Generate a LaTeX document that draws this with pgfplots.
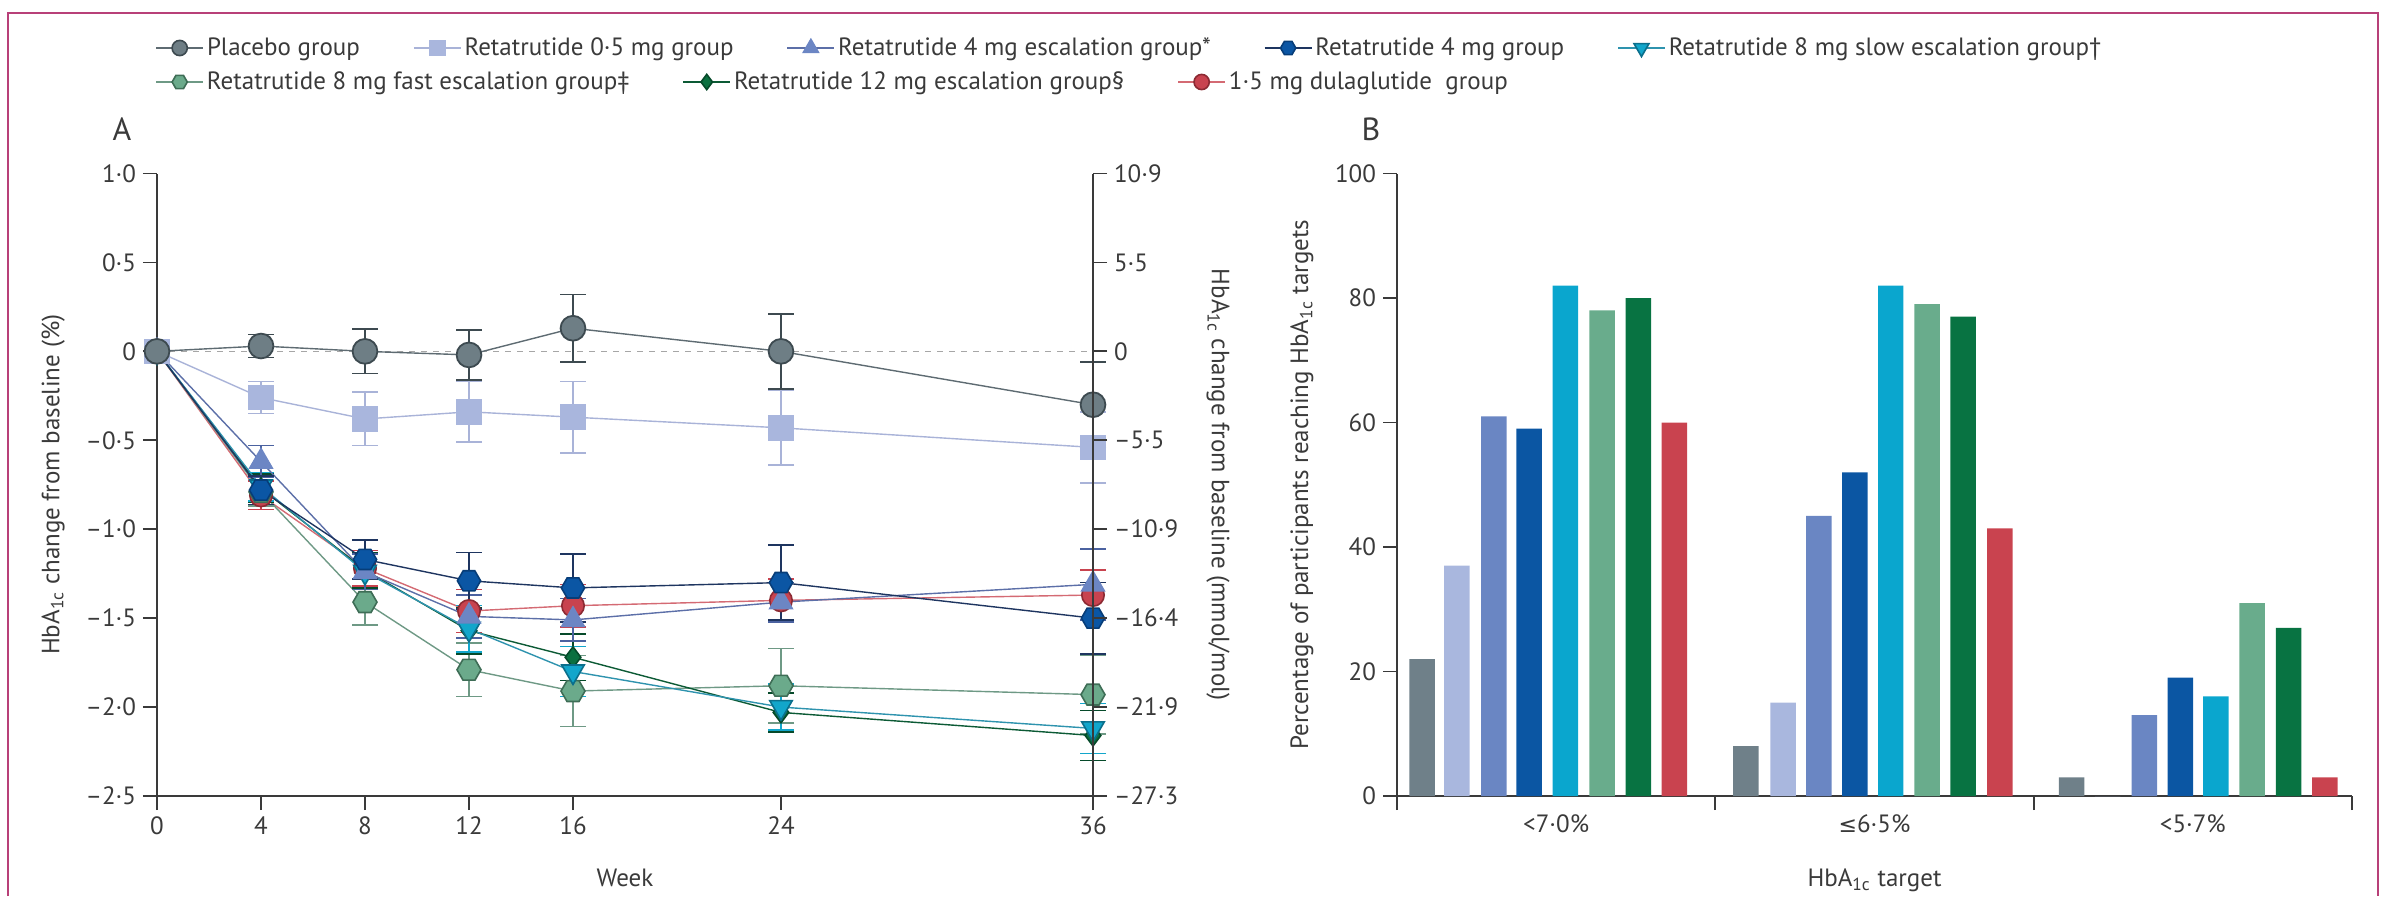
\documentclass[border=0pt]{standalone}
\usepackage{fontspec}
\setmainfont{PT Sans}
\newfontfamily\symfont{DejaVu Sans}
\usepackage{pgfplots}
\pgfplotsset{compat=1.18}
\usetikzlibrary{plotmarks}

% text and axis greys
\definecolor{txt}{HTML}{3A3A3A}
\definecolor{axcol}{HTML}{3A3A3A}
\definecolor{framecol}{HTML}{B84078}
% series colours: fill, outline, connecting line
\definecolor{plc}{HTML}{6E7E85}\definecolor{plcDark}{HTML}{3D4A50}\definecolor{plcLine}{HTML}{5E6B72}
\definecolor{c05}{HTML}{A9B6DD}\definecolor{c05Line}{HTML}{A9B3D8}
\definecolor{c4e}{HTML}{6C86C4}\definecolor{c4eDark}{HTML}{4B62A0}\definecolor{c4eLine}{HTML}{5C6FA8}
\definecolor{c4}{HTML}{0B56A4}\definecolor{c4Dark}{HTML}{073D78}\definecolor{c4Line}{HTML}{1E3560}
\definecolor{c8s}{HTML}{12A6CB}\definecolor{c8sDark}{HTML}{0B6F8C}\definecolor{c8sLine}{HTML}{2E93AE}
\definecolor{c8f}{HTML}{6BAA8B}\definecolor{c8fDark}{HTML}{3E6D56}\definecolor{c8fLine}{HTML}{6E9985}
\definecolor{c12}{HTML}{0B7040}\definecolor{c12Dark}{HTML}{064A2A}\definecolor{c12Line}{HTML}{0C5A35}
\definecolor{cdu}{HTML}{C8434F}\definecolor{cduDark}{HTML}{8C2A33}\definecolor{cduLine}{HTML}{D46A73}
% bar colours
\definecolor{bplc}{HTML}{6F8089}\definecolor{b05}{HTML}{A9B7DE}\definecolor{b4e}{HTML}{6A86C3}
\definecolor{b4}{HTML}{0B56A3}\definecolor{b8s}{HTML}{0AA6CE}\definecolor{b8f}{HTML}{69AC8C}
\definecolor{b12}{HTML}{087342}\definecolor{bdu}{HTML}{C9434F}

% filled hexagon marker, flat top and bottom
\pgfdeclareplotmark{hexagon}{%
  \pgfpathmoveto{\pgfqpointpolar{0}{\pgfplotmarksize}}%
  \pgfpathlineto{\pgfqpointpolar{60}{\pgfplotmarksize}}%
  \pgfpathlineto{\pgfqpointpolar{120}{\pgfplotmarksize}}%
  \pgfpathlineto{\pgfqpointpolar{180}{\pgfplotmarksize}}%
  \pgfpathlineto{\pgfqpointpolar{240}{\pgfplotmarksize}}%
  \pgfpathlineto{\pgfqpointpolar{300}{\pgfplotmarksize}}%
  \pgfpathclose
  \pgfusepathqfillstroke}

\pgfplotsset{
  basefont/.style={font=\fontsize{12.5}{15}\selectfont},
  panel/.style={
    scale only axis, height=311.25pt,
    basefont,
    axis line style={line width=0.9pt, draw=axcol, -},
    tick align=outside, major tick length=7pt,
    tick style={line width=0.9pt, draw=axcol},
    /pgf/number format/assume math mode=true,
    tick label style={text=txt},
    label style={text=txt},
  },
  errs/.style={
    /pgfplots/error bars/y dir=both,
    /pgfplots/error bars/y explicit,
    /pgfplots/error bars/error bar style={draw=#1, line width=0.8pt},
    /pgfplots/error bars/error mark options={rotate=90, mark size=6.5pt, line width=0.8pt, draw=#1},
  },
  legrow/.style={
    hide axis, scale only axis, width=1pt, height=1pt,
    xmin=0, xmax=1, ymin=0, ymax=1,
    legend columns=-1,
    legend style={at={(0,0.5)}, anchor=west, draw=none, fill=none, inner sep=0pt,
      basefont, text=txt,
      nodes={inner sep=1.5pt},
      /tikz/every even column/.append style={column sep=25pt}},
    legend image code/.code={%
      \draw[mark repeat=2, mark phase=2, ##1] plot coordinates {(0pt,0pt) (11.75pt,0pt) (23.5pt,0pt)};},
  },
}

\begin{document}
\begin{tikzpicture}[text=txt]
\path[use as bounding box] (0,0) rectangle (1193.5pt,448pt);
\draw[framecol, line width=1.2pt] (4pt,0pt) -- (4pt,441.5pt) -- (1189pt,441.5pt) -- (1189pt,0pt);

% ---------- legend, first row ----------
\begin{axis}[legrow, at={(77.5pt,423.5pt)}, anchor=south west]
\addlegendimage{plcLine, line width=0.8pt, mark=*, mark size=3.8pt, mark options={fill=plc, draw=plcDark}}
\addlegendentry{Placebo group}
\addlegendimage{c05Line, line width=0.8pt, mark=square*, mark size=3.8pt, mark options={fill=c05, draw=c05}}
\addlegendentry{Retatrutide 0·5 mg group}
\addlegendimage{c4eLine, line width=0.8pt, mark=triangle*, mark size=4.3pt, mark options={fill=c4e, draw=c4e}}
\addlegendentry{Retatrutide 4 mg escalation group*}
\addlegendimage{c4Line, line width=0.8pt, mark=hexagon, mark size=3.8pt, mark options={fill=c4, draw=c4Dark}}
\addlegendentry{Retatrutide 4 mg group}
\addlegendimage{c8sLine, line width=0.8pt, mark=triangle*, mark size=4.3pt, mark options={fill=c8s, draw=c8sDark, rotate=180}}
\addlegendentry{Retatrutide 8 mg slow escalation group†}
\end{axis}

% ---------- legend, second row ----------
\begin{axis}[legrow, at={(77.5pt,406.5pt)}, anchor=south west]
\addlegendimage{c8fLine, line width=0.8pt, mark=hexagon, mark size=3.8pt, mark options={fill=c8f, draw=c8fDark}}
\addlegendentry{Retatrutide 8 mg fast escalation group‡}
\addlegendimage{c12Line, line width=0.8pt, mark=diamond*, mark size=3.8pt, mark options={fill=c12, draw=c12Dark}}
\addlegendentry{Retatrutide 12 mg escalation group§}
\addlegendimage{cduLine, line width=0.8pt, mark=*, mark size=3.8pt, mark options={fill=cdu, draw=cduDark}}
\addlegendentry{1·5 mg dulaglutide\ \ group}
\end{axis}

\node[font=\fontsize{16}{18}\selectfont] at (61pt,383.5pt) {A};
\node[font=\fontsize{16}{18}\selectfont] at (685.5pt,383.5pt) {B};

% ---------- panel A: change in HbA1c over time ----------
\begin{axis}[panel, width=468pt,
  at={(78.5pt,50pt)}, anchor=south west,
  xmin=0, xmax=36, ymin=-2.5, ymax=1,
  axis x line*=bottom, axis y line*=left,
  xtick={0,4,8,12,16,24,36},
  ytick={1,0.5,0,-0.5,-1,-1.5,-2,-2.5},
  yticklabels={1·0,0·5,0,–0·5,–1·0,–1·5,–2·0,–2·5},
  xlabel={Week},
  xlabel style={at={(axis description cs:0.5,-0.1317)}, anchor=center},
  ylabel={HbA\textsubscript{1c} change from baseline (\%)},
  ylabel style={at={(axis description cs:-0.111,0.5)}, anchor=center},
  clip=false,
]
\addplot[gray!70, dashed, line width=0.7pt, forget plot] coordinates {(0,0) (36,0)};

\addplot[cduLine, line width=0.7pt, mark=*, mark size=5.6pt,
  mark options={solid, fill=cdu, draw=cduDark, line width=0.8pt}, errs=cdu]
  table[x=w, y=m, y error=e, row sep=\\]{w m e\\ 0 0 0\\ 4 -0.81 0.08\\ 8 -1.22 0.10\\ 12 -1.46 0.12\\ 16 -1.43 0.12\\ 24 -1.40 0.12\\ 36 -1.37 0.14\\};

\addplot[c8fLine, line width=0.7pt, mark=hexagon, mark size=6pt,
  mark options={solid, fill=c8f, draw=c8fDark, line width=0.8pt}, errs=c8fLine]
  table[x=w, y=m, y error=e, row sep=\\]{w m e\\ 0 0 0\\ 4 -0.79 0.08\\ 8 -1.41 0.13\\ 12 -1.79 0.15\\ 16 -1.91 0.20\\ 24 -1.88 0.21\\ 36 -1.93 0.22\\};

\addplot[c12Line, line width=0.7pt, mark=diamond*, mark size=5.2pt,
  mark options={solid, fill=c12, draw=c12Dark, line width=0.8pt}, errs=c12Dark]
  table[x=w, y=m, y error=e, row sep=\\]{w m e\\ 0 0 0\\ 4 -0.77 0.08\\ 8 -1.23 0.10\\ 12 -1.57 0.13\\ 16 -1.72 0.13\\ 24 -2.03 0.11\\ 36 -2.16 0.14\\};

\addplot[c8sLine, line width=0.7pt, mark=triangle*, mark size=6.5pt,
  mark options={solid, fill=c8s, draw=c8sDark, line width=0.8pt, rotate=180}, errs=c8s]
  table[x=w, y=m, y error=e, row sep=\\]{w m e\\ 0 0 0\\ 4 -0.76 0.08\\ 8 -1.24 0.10\\ 12 -1.56 0.13\\ 16 -1.80 0.14\\ 24 -2.00 0.13\\ 36 -2.12 0.14\\};

\addplot[c4eLine, line width=0.7pt, mark=triangle*, mark size=6.5pt,
  mark options={solid, fill=c4e, draw=c4e, line width=0.8pt}, errs=c4eDark]
  table[x=w, y=m, y error=e, row sep=\\]{w m e\\ 0 0 0\\ 4 -0.62 0.09\\ 8 -1.24 0.10\\ 12 -1.49 0.12\\ 16 -1.51 0.12\\ 24 -1.41 0.11\\ 36 -1.31 0.20\\};

\addplot[c4Line, line width=0.7pt, mark=hexagon, mark size=5.8pt,
  mark options={solid, fill=c4, draw=c4Dark, line width=0.8pt}, errs=c4Line]
  table[x=w, y=m, y error=e, row sep=\\]{w m e\\ 0 0 0\\ 4 -0.78 0.08\\ 8 -1.17 0.11\\ 12 -1.29 0.16\\ 16 -1.33 0.19\\ 24 -1.30 0.21\\ 36 -1.50 0.20\\};

\addplot[c05Line, line width=0.7pt, mark=square*, mark size=6pt,
  mark options={solid, fill=c05, draw=c05, line width=0.8pt}, errs=c05Line]
  table[x=w, y=m, y error=e, row sep=\\]{w m e\\ 0 0 0\\ 4 -0.26 0.09\\ 8 -0.38 0.15\\ 12 -0.34 0.17\\ 16 -0.37 0.20\\ 24 -0.43 0.21\\ 36 -0.54 0.20\\};

\addplot[plcLine, line width=0.7pt, mark=*, mark size=6.2pt,
  mark options={solid, fill=plc, draw=plcDark, line width=0.9pt}, errs=plcDark]
  table[x=w, y=m, y error=e, row sep=\\]{w m e\\ 0 0 0\\ 4 0.03 0.065\\ 8 0.00 0.125\\ 12 -0.02 0.14\\ 16 0.13 0.19\\ 24 0.00 0.21\\ 36 -0.30 0.24\\};
\end{axis}

% ---------- panel A: right-hand scale in mmol/mol ----------
\begin{axis}[panel, width=468pt,
  at={(78.5pt,50pt)}, anchor=south west,
  xmin=0, xmax=36, ymin=-2.5, ymax=1,
  axis x line=none, axis y line*=right,
  ytick={1,0.5,0,-0.5,-1,-1.5,-2,-2.5},
  yticklabels={10·9,5·5,0,–5·5,–10·9,–16·4,–21·9,–27·3},
  ylabel={HbA\textsubscript{1c} change from baseline (mmol/mol)},
  ylabel style={at={(axis description cs:1.1335,0.5)}, anchor=center, rotate=180},
]
\addplot[draw=none, forget plot] coordinates {(0,0)};
\end{axis}

% ---------- panel B: participants reaching HbA1c targets ----------
\begin{axis}[panel, width=477.5pt,
  at={(698.5pt,50pt)}, anchor=south west,
  xmin=0, xmax=3, ymin=0, ymax=100,
  axis x line*=bottom, axis y line*=left,
  ytick={0,20,40,60,80,100},
  xtick={0,1,2,3}, xticklabels={},
  extra x ticks={0.5,1.5,2.5},
  extra x tick labels={<7·0\%,{\symfont\fontsize{11}{13}\selectfont ≤}6·5\%,<5·7\%},
  extra x tick style={major tick length=0pt, tick label style={yshift=-6pt}},
  xlabel={HbA\textsubscript{1c} target},
  xlabel style={at={(axis description cs:0.5,-0.135)}, anchor=center},
  ylabel={Percentage of participants reaching HbA\textsubscript{1c} targets},
  ylabel style={at={(axis description cs:-0.0995,0.5)}, anchor=center},
]
\addplot[ybar, bar width=0.08, bar shift=0pt, fill=bplc, draw=none] coordinates {(0.079,22) (1.096,8) (2.119,3)};
\addplot[ybar, bar width=0.08, bar shift=0pt, fill=b05, draw=none] coordinates {(0.188,37) (1.213,15) (2.232,0)};
\addplot[ybar, bar width=0.08, bar shift=0pt, fill=b4e, draw=none] coordinates {(0.304,61) (1.325,45) (2.348,13)};
\addplot[ybar, bar width=0.08, bar shift=0pt, fill=b4, draw=none] coordinates {(0.415,59) (1.438,52) (2.461,19)};
\addplot[ybar, bar width=0.08, bar shift=0pt, fill=b8s, draw=none] coordinates {(0.529,82) (1.551,82) (2.572,16)};
\addplot[ybar, bar width=0.08, bar shift=0pt, fill=b8f, draw=none] coordinates {(0.644,78) (1.665,79) (2.686,31)};
\addplot[ybar, bar width=0.08, bar shift=0pt, fill=b12, draw=none] coordinates {(0.758,80) (1.778,77) (2.801,27)};
\addplot[ybar, bar width=0.08, bar shift=0pt, fill=bdu, draw=none] coordinates {(0.871,60) (1.894,43) (2.915,3)};
\end{axis}
\end{tikzpicture}
\end{document}
